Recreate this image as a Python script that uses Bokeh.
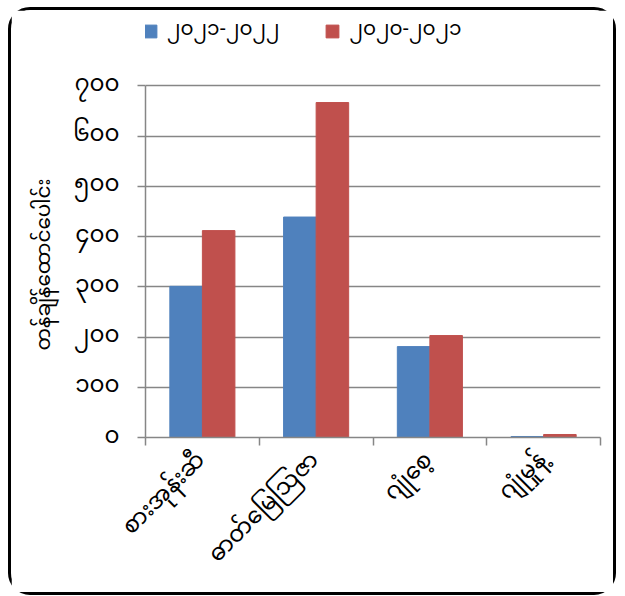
import math
from bokeh.plotting import figure
from bokeh.models import (Range1d, LinearAxis, FixedTicker, Legend, Title,
                          LegendItem, ColumnDataSource)
from bokeh.transform import dodge
from bokeh.embed import file_html
from bokeh.resources import INLINE

# ---- data ----
categories = ["စားအုန်းဆီ", "ဓာတ်မြေဩဇာ", "ဂျုံစေ့", "ဂျုံမှုန့်"]
series_names = ["၂၀၂၁-၂၀၂၂", "၂၀၂၀-၂၀၂၁"]
values_2021_22 = [301, 439, 181, 2]
values_2020_21 = [412, 667, 203, 6]
y_ticks = [0, 100, 200, 300, 400, 500, 600, 700]
y_tick_labels = ["၀", "၁၀၀", "၂၀၀", "၃၀၀", "၄၀၀", "၅၀၀", "၆၀၀", "၇၀၀"]
y_title = "တန်ချိန်ထောင်ပေါင်း"

FONT = "Noto Sans Myanmar, Noto Sans, sans-serif"
BLUE = "#4F81BD"
RED = "#C0504D"
GRID = "#868686"

n = len(categories)
centers = list(range(n))
bounds = [i - 0.5 for i in range(n + 1)]
src = ColumnDataSource(dict(x=centers, a=values_2021_22, b=values_2020_21))

# frame extends above the 700 line so the legend lies inside it
W, H = 602, 582
FRAME_TOP, FRAME_BOTTOM = 12, 437
TOP700 = 77
p = figure(x_range=Range1d(-0.5, n - 0.5),
           y_range=Range1d(0, 700 * (FRAME_BOTTOM - FRAME_TOP) / (FRAME_BOTTOM - TOP700)),
           width=W, height=H, output_backend="svg", toolbar_location=None,
           x_axis_location=None, y_axis_location=None,
           min_border_left=134, min_border_right=19, min_border_top=FRAME_TOP,
           min_border_bottom=135)
p.styles = {"border": "3px solid black", "border-radius": "22px",
            "margin-left": "8px", "margin-top": "7px", "box-sizing": "content-box"}
p.outline_line_color = None
p.background_fill_color = "white"
p.border_fill_color = "white"

r1 = p.vbar(x=dodge("x", -0.143), top="a", width=0.286,
            source=src, fill_color=BLUE, line_color=BLUE)
r2 = p.vbar(x=dodge("x", 0.143), top="b", width=0.286,
            source=src, fill_color=RED, line_color=RED)

# y axis
yax = LinearAxis(ticker=FixedTicker(ticks=y_ticks, minor_ticks=[]), bounds=(0, 700))
yax.major_label_overrides = {t: l for t, l in zip(y_ticks, y_tick_labels)}
yax.axis_line_color = GRID
yax.axis_line_width = 1.5
yax.major_tick_line_color = GRID
yax.major_tick_line_width = 1.5
yax.major_tick_out = 8
yax.major_tick_in = 0
yax.major_label_standoff = 18
yax.major_label_text_font = FONT
yax.major_label_text_font_size = "23px"
yax.major_label_text_color = "black"
p.add_layout(yax, "left")

# y title, starting above the bottom of the 0..700 span
ytitle = Title(text=y_title, align="left", offset=87,
               text_font=FONT, text_font_size="20px", text_font_style="normal",
               text_color="black", standoff=5)
p.add_layout(ytitle, "left")

# x axis (boundary ticks, centered labels)
xax = LinearAxis(ticker=FixedTicker(ticks=centers, minor_ticks=bounds))
xax.major_label_overrides = {c: l for c, l in zip(centers, categories)}
xax.axis_line_color = GRID
xax.axis_line_width = 1.5
xax.major_tick_out = 0
xax.major_tick_in = 0
xax.minor_tick_out = 8
xax.minor_tick_in = 0
xax.minor_tick_line_color = GRID
xax.minor_tick_line_width = 1.5
xax.major_label_orientation = math.pi / 4
xax.major_label_standoff = 12
xax.major_label_text_font = FONT
xax.major_label_text_font_size = "23px"
xax.major_label_text_color = "black"
p.add_layout(xax, "below")

p.ygrid.grid_line_color = GRID
p.ygrid.grid_line_width = 1.5
p.xgrid.visible = False

legend = Legend(items=[LegendItem(label=series_names[0], renderers=[r1]),
                       LegendItem(label=series_names[1], renderers=[r2])],
                orientation="horizontal", location=(-3, 385),
                padding=0, margin=0, spacing=45, label_standoff=9,
                glyph_width=16, glyph_height=16,
                border_line_color=None, background_fill_alpha=0)
legend.label_text_font = FONT
legend.label_text_font_size = "20px"
legend.label_text_color = "black"
p.add_layout(legend, "center")

open("out.html", "w").write(file_html(p, INLINE))
